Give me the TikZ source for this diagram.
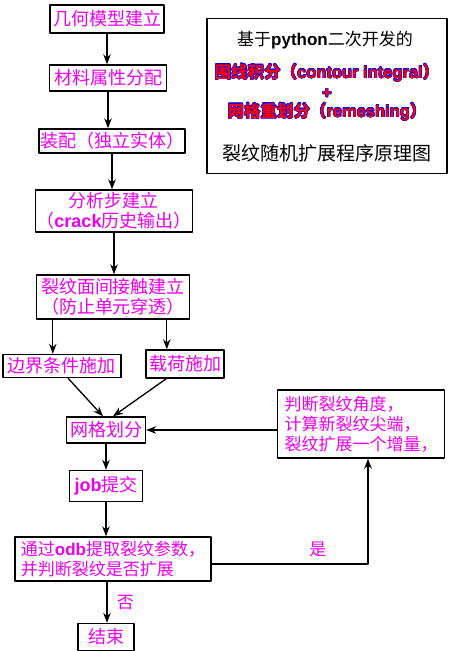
\documentclass[tikz,border=0pt]{standalone}
\usepackage{fontspec}
\setmainfont{Noto Sans CJK SC}
\newfontfamily\lat{Liberation Sans}
\usepackage{contour}
\contourlength{0.35pt}
\usetikzlibrary{arrows.meta}
\definecolor{zi}{RGB}{236,0,236}
\tikzset{kuang/.style={draw, line width=1.4pt, fill=white, text=zi, inner sep=1pt, align=center, font=\fontsize{18}{20}\selectfont},
	xian/.style={->, line width=1.3pt}}
\begin{document}
\begin{tikzpicture}[x=1pt, y=-1pt, line join=round, >={Stealth[length=10pt,width=7.5pt]}]
	\useasboundingbox (0,0) rectangle (454,651);
	% flow boxes
	\node[kuang, minimum width=114pt, minimum height=28pt] (jihe) at (107,19) {几何模型建立};
	\node[kuang, minimum width=117pt, minimum height=26pt] (cailiao) at (108,78) {材料属性分配};
	\node[kuang, minimum width=145pt, minimum height=24pt] (zhuangpei) at (112,141) {装配（独立实体）};
	\node[kuang, minimum width=145pt, minimum height=42pt] (fenxi) at (114,211) {分析步建立\\（{\lat\bfseries crack}历史输出）};
	\node[kuang, minimum width=153pt, minimum height=44pt] (jiechu) at (113,297) {裂纹面间接触建立\\（防止单元穿透）};
	\node[kuang, minimum width=118pt, minimum height=23pt] (bianjie) at (62,366) {边界条件施加};
	\node[kuang, minimum width=78pt, minimum height=28pt] (zaihe) at (185,364) {载荷施加};
	\node[kuang, minimum width=79pt, minimum height=26pt] (wangge) at (106,430) {网格划分};
	\node[kuang, minimum width=167pt, minimum height=68pt, align=left, font=\fontsize{17}{20}\selectfont] (panduan) at (361,424) {判断裂纹角度，\\计算新裂纹尖端，\\裂纹扩展一个增量，};
	\node[kuang, minimum width=73pt, minimum height=31pt] (job) at (106,486) {{\lat\bfseries job}提交};
	\node[kuang, minimum width=196pt, minimum height=44pt, align=left, font=\fontsize{17}{20}\selectfont] (odb) at (113,559) {通过{\lat\bfseries odb}提取裂纹参数，\\并判断裂纹是否扩展};
	\node[kuang, minimum width=56pt, minimum height=27pt] (jieshu) at (106,637) {结束};
	% title box
	\node[draw, line width=1.4pt, minimum width=240pt, minimum height=155pt] (biaoti) at (327,96) {};
	\node[font=\fontsize{17}{20}\selectfont] (t1) at (325,40) {基于{\lat\bfseries python}二次开发的};
	\node[text=red, font=\fontsize{16.5}{18}\selectfont\bfseries\lat] (t2) at (327,73) {\contour{blue}{{\fontspec{Noto Sans CJK SC}围线积分（}contour integral{\fontspec{Noto Sans CJK SC}）}}};
	\node[text=red, font=\fontsize{16.5}{18}\selectfont\bfseries\lat] (t3) at (327,94) {\contour{blue}{+}};
	\node[text=red, font=\fontsize{16.5}{18}\selectfont\bfseries\lat] (t4) at (327,112) {\contour{blue}{{\fontspec{Noto Sans CJK SC}网格重划分（}remeshing{\fontspec{Noto Sans CJK SC}）}}};
	\node[font=\fontsize{19}{22}\selectfont] (t5) at (327,153) {裂纹随机扩展程序原理图};
	% arrows
	\foreach \a/\b in {jihe/cailiao,cailiao/zhuangpei,zhuangpei/fenxi,fenxi/jiechu,wangge/job,job/odb}
		\draw[xian] (\a.south) -- (\a.south |- \b.north);
	\draw[xian] ([xshift=17pt]jiechu.south west) -- ([xshift=17pt]jiechu.south west |- bianjie.north);
	\draw[xian] ([xshift=131pt]jiechu.south west) -- ([xshift=131pt]jiechu.south west |- zaihe.north);
	\draw[xian] ([xshift=6pt]bianjie.south) -- ([xshift=-3pt]wangge.north);
	\draw[xian] ([xshift=21pt]zaihe.south west) -- ([xshift=7pt]wangge.north);
	\draw[xian] (panduan.west |- wangge.east) -- (wangge.east);
	\draw[xian] ([yshift=-5pt]odb.east) -| node[pos=0.34, above=3pt, text=zi, font=\fontsize{17}{20}\selectfont]{是} ([xshift=7pt]panduan.south);
	\draw[xian] ([xshift=-6pt]odb.south) -- node[right=6pt, text=zi, font=\fontsize{17}{20}\selectfont]{否} ([xshift=-6pt]odb.south |- jieshu.north);
\end{tikzpicture}
\end{document}
